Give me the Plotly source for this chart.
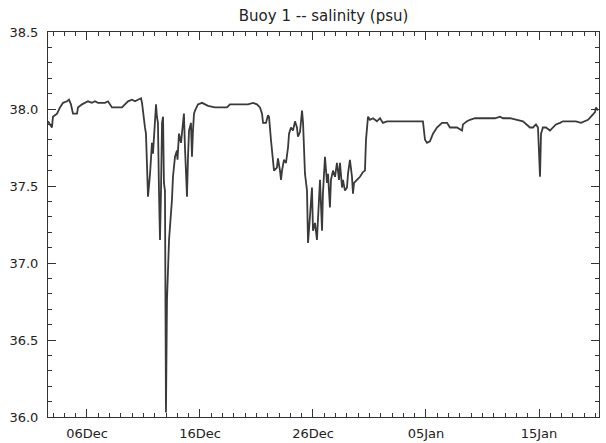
import pandas as pd
import plotly.graph_objects as go

# Buoy 1 salinity record: time in days since 1 Dec, salinity in psu
day = [
    1.55, 1.90, 1.99, 2.35, 2.61, 2.88, 3.23, 3.41, 3.58, 3.76, 4.12, 4.20,
    4.56, 4.82, 5.09, 5.44, 5.71, 5.97, 6.33, 6.59, 6.86, 7.21, 7.48, 7.74,
    8.10, 8.36, 8.63, 8.98, 9.25, 9.51, 9.78, 9.87, 10.04, 10.13, 10.22, 10.40,
    10.58, 10.75, 10.84, 11.02, 11.11, 11.19, 11.28, 11.37, 11.46, 11.55, 11.64,
    11.73, 11.77, 11.81, 11.90, 11.99, 12.08, 12.17, 12.26, 12.52, 12.61, 12.79,
    12.96, 13.01, 13.14, 13.32, 13.50, 13.58, 13.67, 13.85, 13.94, 14.03, 14.20,
    14.29, 14.38, 14.47, 14.56, 14.82, 15.18, 15.44, 15.71, 16.33, 16.95, 17.39,
    17.65, 18.10, 18.72, 19.25, 19.69, 20.04, 20.31, 20.49, 20.58, 20.84, 21.02,
    21.11, 21.28, 21.46, 21.55, 21.81, 21.90, 22.08, 22.17, 22.26, 22.43, 22.61,
    22.79, 22.88, 23.05, 23.23, 23.41, 23.58, 23.67, 23.85, 24.03, 24.12, 24.29,
    24.47, 24.56, 24.73, 24.91, 25.00, 25.18, 25.35, 25.44, 25.62, 25.80, 25.88,
    26.06, 26.24, 26.33, 26.50, 26.59, 26.77, 26.95, 27.12, 27.21, 27.30, 27.39,
    27.57, 27.65, 27.83, 28.01, 28.10, 28.27, 28.45, 28.54, 28.63, 28.89, 29.16,
    29.42, 29.60, 29.69, 29.87, 30.04, 30.31, 30.66, 30.93, 31.19, 31.55, 31.81,
    32.96, 34.73, 34.91, 35.09, 35.35, 35.62, 35.97, 36.42, 36.86, 37.12, 37.39,
    37.74, 38.19, 38.27, 38.63, 38.89, 39.34, 39.78, 40.22, 40.66, 41.11, 41.55,
    41.81, 42.43, 42.96, 43.58, 44.20, 44.47, 44.73, 44.91, 45.09, 45.18, 45.35,
    45.62, 45.97, 46.24, 46.50, 46.86, 47.12, 47.74, 48.27, 48.72, 49.07, 49.34,
    49.60, 49.96, 50.04, 50.22,
]
salinity = [
    37.92, 37.88, 37.95, 37.97, 38.01, 38.04, 38.05, 38.06, 38.03, 37.97, 37.97, 38.01,
    38.03, 38.04, 38.05, 38.04, 38.05, 38.04, 38.04, 38.04, 38.05, 38.01, 38.01, 38.01,
    38.01, 38.03, 38.05, 38.06, 38.05, 38.06, 38.07, 38.04, 37.91, 37.88, 37.84, 37.43,
    37.58, 37.78, 37.71, 37.97, 38.03, 37.95, 37.91, 37.47, 37.15, 37.47, 37.91,
    37.95, 37.69, 37.52, 37.47, 36.03, 36.76, 37.02, 37.15, 37.41, 37.56, 37.69,
    37.73, 37.67, 37.84, 37.78, 37.93, 37.97, 37.75, 37.43, 37.69, 37.86, 37.91,
    37.69, 37.86, 37.97, 37.99, 38.03, 38.04, 38.03, 38.02, 38.01, 38.01, 38.01,
    38.03, 38.03, 38.03, 38.03, 38.04, 38.03, 38.01, 37.97, 37.91, 37.91, 37.96,
    37.95, 37.80, 37.69, 37.60, 37.62, 37.68, 37.60, 37.54, 37.60, 37.67, 37.65,
    37.75, 37.84, 37.88, 37.86, 37.92, 37.88, 37.82, 37.85, 37.99, 37.91, 37.58,
    37.47, 37.13, 37.30, 37.49, 37.21, 37.26, 37.15, 37.28, 37.54, 37.21, 37.45,
    37.69, 37.52, 37.58, 37.36, 37.54, 37.60, 37.56, 37.65, 37.60, 37.54, 37.65,
    37.49, 37.54, 37.47, 37.49, 37.58, 37.67, 37.56, 37.45, 37.52, 37.54, 37.56,
    37.59, 37.60, 37.80, 37.95, 37.93, 37.94, 37.92, 37.94, 37.91, 37.92, 37.92,
    37.92, 37.92, 37.80, 37.78, 37.79, 37.84, 37.88, 37.91, 37.91, 37.88, 37.88,
    37.88, 37.86, 37.90, 37.92, 37.93, 37.94, 37.94, 37.94, 37.94, 37.94, 37.95,
    37.94, 37.94, 37.93, 37.92, 37.88, 37.88, 37.90, 37.88, 37.56, 37.84, 37.88,
    37.88, 37.86, 37.88, 37.90, 37.91, 37.92, 37.92, 37.92, 37.91, 37.92, 37.93,
    37.95, 37.98, 38.01, 37.99,
]
y_ticks = [36.0, 36.5, 37.0, 37.5, 38.0, 38.5]

base = pd.Timestamp("1998-12-01")
time = base + pd.to_timedelta(day, unit="D")
x_start = base + pd.to_timedelta(1.55, unit="D")
x_end = base + pd.to_timedelta(50.31, unit="D")
first_tick = base + pd.Timedelta(days=5)

axis_color = "#333333"
font = dict(family="DejaVu Sans", size=13, color="#222222")

fig = go.Figure(
    go.Scatter(
        x=time,
        y=salinity,
        mode="lines",
        line=dict(color="#3a3a3a", width=1.8),
        hoverinfo="x+y",
    )
)

fig.update_layout(
    width=606,
    height=443,
    margin=dict(l=48, r=7, t=32, b=26),
    paper_bgcolor="white",
    plot_bgcolor="white",
    showlegend=False,
    font=font,
    title=dict(
        text="Buoy 1 -- salinity (psu)",
        x=0.534,
        xanchor="center",
        y=1 - 16 / 443,
        yanchor="middle",
        font=dict(family="DejaVu Sans", size=15, color="#222222"),
    ),
)

fig.update_xaxes(
    range=[x_start, x_end],
    tick0=first_tick,
    dtick=10 * 86400000,
    tickformat="%d%b",
    ticks="inside",
    ticklen=8,
    tickcolor=axis_color,
    showline=True,
    linecolor=axis_color,
    linewidth=1,
    mirror="ticks",
    showgrid=False,
    zeroline=False,
    automargin=False,
    ticklabelstandoff=4,
    minor=dict(ticks="inside", dtick=86400000, ticklen=4, tickcolor=axis_color, showgrid=False),
)

fig.update_yaxes(
    range=[36.0, 38.5],
    tickvals=y_ticks,
    tickformat=".1f",
    ticks="inside",
    ticklen=8,
    tickcolor=axis_color,
    showline=True,
    linecolor=axis_color,
    linewidth=1,
    mirror="ticks",
    showgrid=False,
    zeroline=False,
    automargin=False,
    ticklabelstandoff=6,
    minor=dict(ticks="inside", dtick=0.1, tick0=36.0, ticklen=4, tickcolor=axis_color, showgrid=False),
)

fig.write_html("out.html")
